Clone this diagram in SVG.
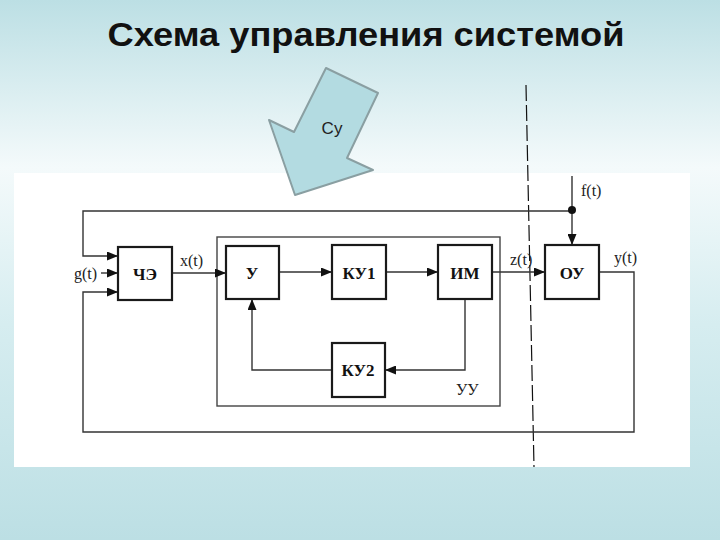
<svg xmlns="http://www.w3.org/2000/svg" width="720" height="540" viewBox="0 0 720 540">
<defs>
<linearGradient id="bg" x1="0" y1="0" x2="0" y2="1">
<stop offset="0" stop-color="#bcdfe4"/>
<stop offset="0.31" stop-color="#f4fafb"/>
<stop offset="0.6" stop-color="#d6edf0"/>
<stop offset="1" stop-color="#bcdfe4"/>
</linearGradient>
<marker id="ah" markerWidth="11" markerHeight="9" refX="10" refY="4.5" orient="auto" markerUnits="userSpaceOnUse">
<path d="M0,0 L11,4.5 L0,9 Z" fill="#111"/>
</marker>
<style>
.box{fill:#fff;stroke:#1a1a1a;stroke-width:2.2}
.ln{fill:none;stroke:#333;stroke-width:1.4}
.lb{font-family:"Liberation Serif","DejaVu Serif",serif;font-weight:bold;font-size:17px;fill:#111;text-anchor:middle}
.sig{font-family:"Liberation Serif","DejaVu Serif",serif;font-size:16px;fill:#222}
</style>
</defs>
<rect x="0" y="0" width="720" height="540" fill="url(#bg)"/>
<text x="366" y="46" font-family="'Liberation Sans',Arial,sans-serif" font-weight="bold" font-size="33" fill="#111" text-anchor="middle" textLength="517" lengthAdjust="spacingAndGlyphs">Схема управления системой</text>
<rect x="14" y="173" width="676" height="294" fill="#fff"/>
<g id="arrow-su">
<polygon points="326,68 378,93 347,158 373,170 295,195 269,120 294,132" fill="#b3dbe1" stroke="#8a9fa2" stroke-width="2" stroke-linejoin="round"/>
<text x="332" y="134" font-family="'Liberation Sans',Arial,sans-serif" font-size="17" fill="#222" text-anchor="middle">Су</text>
</g>
<g id="connectors">
<line x1="526" y1="85" x2="534" y2="467" stroke="#111" stroke-width="1.2" stroke-dasharray="16 4"/>
<rect x="217" y="237" width="283" height="169" fill="none" stroke="#444" stroke-width="1.4"/>
<polyline class="ln" points="572,211 83,211 83,256 117,256" marker-end="url(#ah)"/>
<line class="ln" x1="101" y1="273" x2="117" y2="273" marker-end="url(#ah)"/>
<polyline class="ln" points="599,272 634,272 634,432 83,432 83,292 117,292" marker-end="url(#ah)"/>
<line class="ln" x1="572" y1="176" x2="572" y2="244" marker-end="url(#ah)"/>
<circle cx="572" cy="210" r="4" fill="#111"/>
<line class="ln" x1="172" y1="273" x2="225" y2="273" marker-end="url(#ah)"/>
<line class="ln" x1="279" y1="272" x2="331" y2="272" marker-end="url(#ah)"/>
<line class="ln" x1="386" y1="272" x2="437" y2="272" marker-end="url(#ah)"/>
<line class="ln" x1="492" y1="272" x2="544" y2="272" marker-end="url(#ah)"/>
<polyline class="ln" points="465,299 465,370 386,370" marker-end="url(#ah)"/>
<polyline class="ln" points="332,370 252,370 252,300" marker-end="url(#ah)"/>
</g>
<g id="node-che"><rect class="box" x="118" y="247" width="54" height="53"/><text class="lb" x="145" y="280">ЧЭ</text></g>
<g id="node-u"><rect class="box" x="226" y="246" width="53" height="53"/><text class="lb" x="252" y="279">У</text></g>
<g id="node-ku1"><rect class="box" x="332" y="245" width="54" height="54"/><text class="lb" x="359" y="279">КУ1</text></g>
<g id="node-im"><rect class="box" x="438" y="245" width="54" height="54"/><text class="lb" x="465" y="279">ИМ</text></g>
<g id="node-ou"><rect class="box" x="545" y="245" width="54" height="54"/><text class="lb" x="572" y="279">ОУ</text></g>
<g id="node-ku2"><rect class="box" x="332" y="343" width="53" height="54"/><text class="lb" x="358" y="376">КУ2</text></g>
<g id="labels">
<text class="sig" x="74" y="279">g(t)</text>
<text class="sig" x="180" y="266">x(t)</text>
<text class="sig" x="510" y="265">z(t)</text>
<text class="sig" x="614" y="263">y(t)</text>
<text class="sig" x="581" y="196">f(t)</text>
<text class="sig" x="456" y="395" font-size="17">УУ</text>
</g>
</svg>
